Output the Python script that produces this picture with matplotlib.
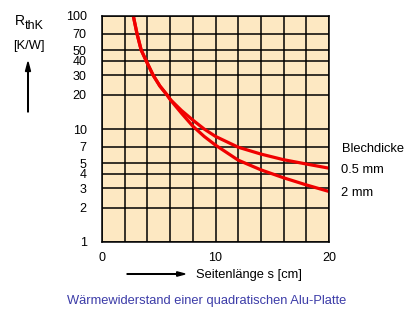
import matplotlib
matplotlib.use("Agg")
import matplotlib.pyplot as plt
from matplotlib.patches import FancyArrow
from matplotlib.ticker import NullLocator

# side length s [cm]
s_cm = [2.76, 3.08, 3.45, 3.9, 4.5, 5.1, 5.7, 6.05, 7.0, 8.0, 9.0, 10.0, 12.0, 14.0, 16.0, 18.0, 20.0]
# thermal resistance R_thK [K/W] for 0.5 mm and 2 mm sheet
r_05mm = [100, 70, 50, 40, 30, 24.0, 20.2, 18.1, 14.6, 12.0, 10.0, 8.6, 6.9, 6.0, 5.35, 4.9, 4.5]
r_2mm = [100, 70, 50, 40, 30, 24.0, 20.2, 18.0, 13.8, 10.6, 8.6, 7.2, 5.3, 4.35, 3.7, 3.2, 2.8]

y_ticks = [1, 2, 3, 4, 5, 7, 10, 20, 30, 40, 50, 70, 100]
x_ticks = [0, 2, 4, 6, 8, 10, 12, 14, 16, 18, 20]
x_labels = ["0", "", "", "", "", "10", "", "", "", "", "20"]

plt.rcParams["font.family"] = ["Liberation Sans", "DejaVu Sans"]
fs = 9.3

fig = plt.figure(figsize=(4.16, 3.15), dpi=100)
ax = fig.add_axes([102 / 416, 1 - 242 / 315, 227 / 416, 226 / 315])
ax.set_facecolor("#fde8c2")

ax.set_yscale("log")
ax.set_xlim(0, 20)
ax.set_ylim(1, 100)
ax.set_yticks(y_ticks)
ax.set_yticklabels([str(v) for v in y_ticks])
ax.yaxis.set_minor_locator(NullLocator())
ax.set_xticks(x_ticks)
ax.set_xticklabels(x_labels)
ax.tick_params(length=0, labelsize=9, colors="black")
ax.tick_params(axis="y", pad=11)
ax.tick_params(axis="x", pad=7)
ax.grid(True, color="black", linewidth=1.1)
ax.set_axisbelow(True)
for sp in ax.spines.values():
    sp.set_linewidth(1.1)

for r in (r_05mm, r_2mm):
    ax.plot(s_cm, r, color="#f00000", linewidth=2.3,
            solid_capstyle="round", solid_joinstyle="round")

# y axis label with arrow
fig.text(15 / 416, 1 - 21 / 315, "R", fontsize=10, va="center", ha="left")
fig.text(25 / 416, 1 - 26 / 315, "thK", fontsize=9, va="center", ha="left")
fig.text(13 / 416, 1 - 46 / 315, "[K/W]", fontsize=fs, va="center", ha="left")
fig.patches.append(FancyArrow(
    28 / 416, 1 - 112 / 315, 0, 50 / 315, width=0.0015, head_width=0.012,
    head_length=0.03, length_includes_head=True, color="black",
    transform=fig.transFigure, figure=fig))

# x axis label with arrow
fig.text(196 / 416, 1 - 275 / 315, "Seitenlänge s [cm]", fontsize=fs, va="center", ha="left")
fig.patches.append(FancyArrow(
    127 / 416, 1 - 274 / 315, 58 / 416, 0, width=0.002, head_width=0.014,
    head_length=0.02, length_includes_head=True, color="black",
    transform=fig.transFigure, figure=fig))

# curve labels
fig.text(342 / 416, 1 - 149 / 315, "Blechdicke", fontsize=fs, va="center", ha="left")
fig.text(341 / 416, 1 - 170 / 315, "0.5 mm", fontsize=fs, va="center", ha="left")
fig.text(341 / 416, 1 - 193 / 315, "2 mm", fontsize=fs, va="center", ha="left")

fig.text(207 / 416, 1 - 301 / 315, "Wärmewiderstand einer quadratischen Alu-Platte",
         fontsize=fs, va="center", ha="center", color="#3c3ca8")

fig.savefig("out.png", dpi=100)
